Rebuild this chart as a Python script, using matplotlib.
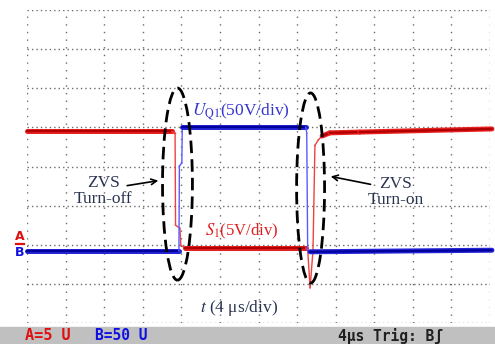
import numpy as np
import matplotlib.pyplot as plt
from matplotlib.patches import Ellipse, Rectangle

# time base 4 us/div, 12 divisions; S1 5 V/div, UQ1 50 V/div
t_s1 = [0, 15.0, 15.2, 15.35, 15.4, 15.85, 15.95, 16.4, 28.9, 29.1, 29.35,
        29.65, 29.85, 30.2, 30.6, 31.4, 34.5, 48.2]
v_s1 = [14.5, 14.5, 14.3, 14.3, 2.5, 2.1, -0.1, -0.4, -0.4, -0.7, -5.5,
        -0.7, 12.7, 13.4, 13.9, 14.3, 14.4, 14.8]

t_uq1 = [0, 15.75, 15.8, 16.05, 16.1, 28.9, 29.0, 29.1, 29.35, 48.2]
v_uq1 = [-0.5, -0.5, 108, 112, 158, 158, 150, 0, -1.5, 0.5]

s1_scale, s1_ground = 5.0, 2.0
uq1_scale, uq1_ground = 50.0, 1.85

plt.rcParams['font.family'] = ['Liberation Serif', 'DejaVu Serif']
plt.rcParams['mathtext.fontset'] = 'stix'

fig = plt.figure(figsize=(4.95, 3.44), dpi=100)
ax = fig.add_axes([27 / 495, 21 / 344, 463 / 495, 313 / 344])
ax.set_xlim(0, 48)
ax.set_ylim(0, 8)
ax.set_xticks(np.arange(0, 49, 4))
ax.set_yticks(np.arange(0, 9, 1))
ax.tick_params(length=0, labelbottom=False, labelleft=False)
for s in ax.spines.values():
    s.set_visible(False)
ax.yaxis.grid(True, linestyle=(0, (1, 2.2)), color='#6a6a6a', lw=1.0)
ax.xaxis.grid(True, linestyle=(0, (1, 4.5)), color='#6a6a6a', lw=1.0)
ax.set_axisbelow(True)


def draw_trace(t, v, scale, ground, edge, core, thin):
    y = ground + np.array(v) / scale
    for i in range(len(t) - 1):
        seg_t = t[i:i + 2]
        seg_y = y[i:i + 2]
        if abs(seg_y[1] - seg_y[0]) < 0.15 and seg_t[1] - seg_t[0] > 0.5:
            ax.plot(seg_t, seg_y, color=edge, lw=3.6, solid_capstyle='round', clip_on=False, zorder=3)
            ax.plot(seg_t, seg_y, color=core, lw=1.6, solid_capstyle='round', clip_on=False, zorder=3)
        else:
            ax.plot(seg_t, seg_y, color=thin, lw=1.0, clip_on=False, zorder=3)


draw_trace(t_s1, v_s1, s1_scale, s1_ground, '#e82020', '#b00000', '#f04040')
draw_trace(t_uq1, v_uq1, uq1_scale, uq1_ground, '#2424d8', '#00009a', '#5a5aff')

# dashed ellipses around the switching instants
for cx, cy, w, h in [(15.6, 3.55, 3.1, 4.91), (29.4, 3.45, 2.9, 4.86)]:
    ax.add_patch(Ellipse((cx, cy), w, h, fill=False, ec='black', lw=2.0,
                         ls=(0, (4.5, 2.2)), zorder=4))

lab_col = '#2a3350'
ax.text(7.9, 3.37, 'ZVS\nTurn-off', ha='center', va='center', fontsize=12.5,
        color=lab_col, linespacing=1.0)
ax.annotate('', xy=(13.9, 3.65), xytext=(10.1, 3.50),
            arrowprops=dict(arrowstyle='->', color='black', lw=1.2))
ax.text(38.26, 3.36, 'ZVS\nTurn-on', ha='center', va='center', fontsize=12.5,
        color=lab_col, linespacing=1.0)
ax.annotate('', xy=(31.2, 3.76), xytext=(35.9, 3.53),
            arrowprops=dict(arrowstyle='->', color='black', lw=1.2))

ax.text(17.1, 5.39, r'$U_{\rm Q1}$(50V/div)', ha='left', va='center',
        fontsize=12.5, color='#3535d0', zorder=5)
ax.text(18.45, 2.33, r'$S_1$(5V/div)', ha='left', va='center',
        fontsize=12, color='#e02020', zorder=5)
ax.text(17.94, 0.38, r'$t$ (4 ' + '\u03bc' + 's/div)', ha='left', va='center',
        fontsize=12.5, color=lab_col, zorder=5)

# channel ground markers
ax.text(-0.75, 2.22, 'A', ha='center', va='center', fontsize=9, fontweight='bold',
        family='DejaVu Sans', color='#e01010', clip_on=False)
ax.plot([-1.15, -0.35], [2.02, 2.02], color='#e01010', lw=1.6, clip_on=False)
ax.text(-0.75, 1.8, 'B', ha='center', va='center', fontsize=9, fontweight='bold',
        family='DejaVu Sans', color='#1010e0', clip_on=False)

# status bar
fig.patches.append(Rectangle((0, 0), 1, 17 / 344, transform=fig.transFigure,
                             color='#c0c0c0', zorder=0))
bar_y = 8 / 344
fig.text(25 / 495, bar_y, 'A=5 U', ha='left', va='center', fontsize=11,
         family='DejaVu Sans Mono', fontweight='bold', color='#e01010')
fig.text(95 / 495, bar_y, 'B=50 U', ha='left', va='center', fontsize=10.5,
         family='DejaVu Sans Mono', fontweight='bold', color='#1010e0')
fig.text(338 / 495, bar_y, '4\u03bcs Trig: B\u0283', ha='left', va='center',
         fontsize=10.5, family='DejaVu Sans Mono', fontweight='bold', color='#202020')

fig.savefig('out.png', dpi=100)
